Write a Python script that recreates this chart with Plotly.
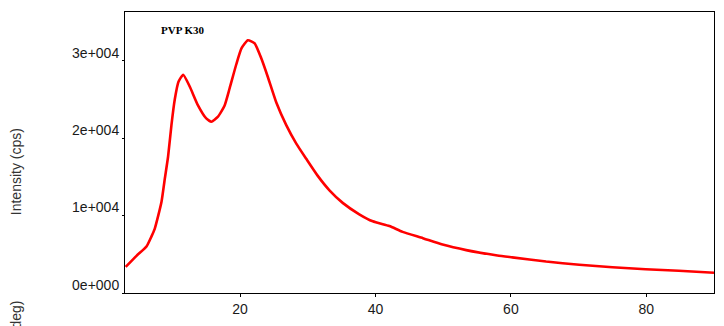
import plotly.graph_objects as go

two_theta = [3.1, 4.7, 6.2, 6.9, 7.4, 7.9, 8.4, 8.87, 9.36, 9.86, 10.35, 10.9, 11.6, 12.56, 13.8, 15.0,
             15.75, 16.7, 17.7, 18.46, 19.44, 20.2, 21.15, 22.15, 23.1, 24.1, 25.35, 26.8, 28.3,
             29.8, 31.5, 33.2, 35.2, 37.6, 39.6, 42.05, 44.0, 47.0, 49.9, 53.4, 58.0, 60.2, 65.2,
             70.1, 75.0, 79.9, 84.8, 90.0]
intensity = [3370, 4800, 6040, 7280, 8320, 9960, 11820, 14700, 17600, 21700, 25000, 27300, 28200, 26670, 24200, 22550,
             22130, 22750, 24200, 26460, 29550, 31600, 32650, 32240, 30380, 27900, 24600, 21720, 19300,
             17300, 15100, 13270, 11610, 10170, 9260, 8650, 7900, 7080, 6250, 5540, 4850, 4600, 4060,
             3650, 3320, 3070, 2870, 2620]

y_tickvals = [0, 10000, 20000, 30000]
y_ticktext = ["0e+000", "1e+004", "2e+004", "3e+004"]
x_tickvals = [20, 40, 60, 80]
x_ticktext = ["20", "40", "60", "80"]

sample_label = "PVP K30"
y_title = "Intensity (cps)"
x_title = "2Theta (deg)"

fig = go.Figure()
fig.add_trace(go.Scatter(x=two_theta, y=intensity, mode="lines",
                         line=dict(color="#ff0000", width=2.6, shape="spline", smoothing=0.5),
                         hoverinfo="skip", showlegend=False))

axis_font = dict(family="Liberation Sans, Arial, sans-serif", size=14, color="#1a1a1a")
fig.update_layout(
    width=724, height=326,
    margin=dict(l=125, r=9, t=12, b=21),
    paper_bgcolor="white", plot_bgcolor="white",
    xaxis=dict(range=[3, 90], tickvals=x_tickvals, ticktext=x_ticktext,
               showgrid=False, zeroline=False, showline=True, linecolor="black", linewidth=1,
               mirror=True, ticks="outside", ticklen=3, tickcolor="black", tickfont=axis_font),
    yaxis=dict(range=[0, 36300], tickvals=y_tickvals, ticktext=y_ticktext,
               showgrid=False, zeroline=False, showline=True, linecolor="black", linewidth=1,
               mirror=True, ticks="outside", ticklen=2, tickcolor="black", tickfont=axis_font,
               ticklabelshift=-8, ticklabelstandoff=0),
    annotations=[
        dict(text="<b>" + sample_label + "</b>", xref="paper", yref="paper", x=0.0576, y=0.935,
             xanchor="left", yanchor="middle", showarrow=False,
             font=dict(family="Liberation Serif, Times New Roman, serif", size=11, color="black")),
        dict(text=y_title, xref="paper", yref="paper", x=-0.185, y=0.43, textangle=-90,
             xanchor="center", yanchor="middle", showarrow=False,
             font=dict(family="Liberation Sans, Arial, sans-serif", size=14, color="#333333")),
        dict(text=x_title, xref="paper", yref="paper", x=-0.185, y=-0.02, textangle=-90,
             xanchor="center", yanchor="top", showarrow=False,
             font=dict(family="Liberation Sans, Arial, sans-serif", size=14, color="#333333")),
    ],
)
fig.write_html("out.html")
